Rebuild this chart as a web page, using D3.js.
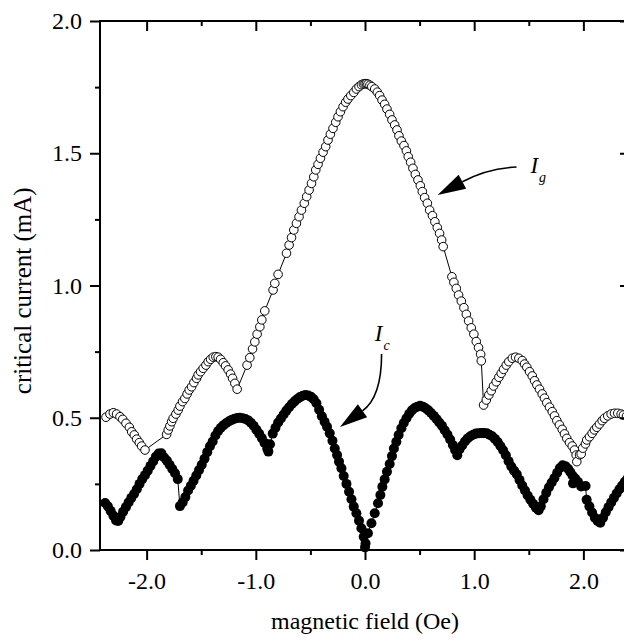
<!DOCTYPE html>
<html><head><meta charset="utf-8">
<script src="https://cdn.jsdelivr.net/npm/d3@7"></script>
<style>body{margin:0;background:#fff;} svg{display:block;font-family:"Liberation Serif","Times New Roman",serif;}</style>
</head><body><svg id="c" width="624" height="642"></svg>
<script>
// ---- data ----
const igField = [-2.372,-2.336,-2.305,-2.275,-2.244,-2.219,-2.189,-2.158,-2.137,-2.113,-2.091,-2.067,-2.046,-2.015,
-1.817,-1.802,-1.787,-1.771,-1.757,-1.732,-1.711,-1.695,-1.671,-1.650,-1.629,-1.610,-1.588,-1.567,-1.543,-1.528,-1.506,-1.482,-1.457,-1.436,-1.414,-1.390,-1.366,-1.345,-1.323,-1.298,-1.277,-1.253,-1.231,-1.213,-1.192,-1.171,
-1.080,-1.055,-1.030,-1.009,-0.988,-0.963,-0.945,-0.918,
-0.842,-0.826,-0.796,
-0.719,-0.695,-0.673,-0.652,-0.628,-0.604,-0.582,-0.556,-0.534,-0.512,-0.490,-0.469,-0.451,-0.430,-0.408,-0.384,-0.360,-0.339,-0.317,-0.293,-0.268,-0.247,-0.225,-0.201,-0.177,-0.156,-0.130,-0.103,-0.079,-0.055,-0.033,-0.015,0.000,0.013,0.027,0.045,0.062,0.089,0.113,0.134,0.156,0.180,0.201,0.226,0.247,0.272,0.293,0.311,0.333,0.357,0.379,0.396,0.418,0.439,0.461,0.485,0.507,0.525,0.546,0.571,0.592,0.618,0.640,0.662,0.683,0.702,0.716,
0.796,0.814,0.836,0.857,0.882,0.906,0.928,0.949,0.973,0.997,1.019,1.040,1.059,1.065,
1.086,1.111,1.134,1.156,1.177,1.202,1.226,1.248,1.269,1.294,1.317,1.349,1.379,1.409,1.440,1.461,1.482,1.507,1.532,1.553,1.574,1.598,1.623,1.644,1.665,1.690,1.715,1.736,1.757,1.781,1.806,1.827,1.848,1.873,1.898,1.919,1.934,1.940,1.965,1.980,1.994,2.019,2.031,2.056,2.080,2.101,2.123,2.147,2.172,2.193,2.223,2.254,2.285,2.315,2.346,2.367,2.395,2.420];
const igCurrent = [0.502,0.514,0.519,0.514,0.504,0.494,0.479,0.464,0.447,0.435,0.419,0.406,0.393,0.378,
0.437,0.454,0.469,0.485,0.498,0.514,0.529,0.544,0.561,0.573,0.590,0.605,0.617,0.633,0.649,0.662,0.674,0.687,0.699,0.712,0.721,0.729,0.731,0.729,0.721,0.708,0.696,0.681,0.665,0.649,0.630,0.608,
0.699,0.727,0.760,0.787,0.816,0.844,0.870,0.904,
0.983,1.008,1.042,
1.122,1.153,1.181,1.210,1.235,1.260,1.285,1.311,1.336,1.361,1.386,1.411,1.437,1.458,1.481,1.504,1.525,1.550,1.572,1.594,1.617,1.638,1.657,1.676,1.693,1.705,1.718,1.730,1.743,1.752,1.759,1.762,1.763,1.763,1.761,1.757,1.752,1.743,1.731,1.718,1.701,1.685,1.667,1.647,1.626,1.607,1.588,1.566,1.546,1.529,1.509,1.487,1.466,1.443,1.420,1.399,1.377,1.355,1.332,1.311,1.285,1.264,1.241,1.219,1.197,1.172,1.147,
1.033,1.012,0.989,0.964,0.941,0.916,0.891,0.866,0.840,0.816,0.788,0.765,0.740,0.715,
0.548,0.567,0.586,0.602,0.620,0.636,0.653,0.668,0.683,0.699,0.712,0.725,0.729,0.725,0.716,0.703,0.691,0.674,0.658,0.640,0.624,0.608,0.590,0.574,0.557,0.540,0.523,0.507,0.489,0.473,0.456,0.439,0.422,0.406,0.393,0.378,0.359,0.334,0.360,0.363,0.385,0.401,0.416,0.428,0.441,0.454,0.464,0.476,0.489,0.498,0.507,0.514,0.517,0.517,0.514,0.510,0.506,0.502];

const icPoints = [
[-2.38,0.178],[-2.355,0.165],[-2.33,0.148],[-2.305,0.130],[-2.28,0.112],[-2.26,0.110],[-2.24,0.125],[-2.215,0.145],[-2.19,0.162],[-2.165,0.180],[-2.14,0.197],[-2.115,0.212],[-2.09,0.230],[-2.065,0.250],[-2.04,0.268],[-2.015,0.283],[-1.99,0.300],[-1.965,0.318],[-1.94,0.335],[-1.915,0.353],[-1.89,0.365],[-1.865,0.366],[-1.84,0.350],[-1.815,0.338],[-1.79,0.322],[-1.765,0.306],[-1.74,0.290],[-1.715,0.268],
[-1.695,0.166],[-1.67,0.180],[-1.645,0.200],[-1.62,0.225],[-1.595,0.243],[-1.57,0.262],[-1.545,0.282],[-1.52,0.302],[-1.495,0.322],[-1.47,0.345],[-1.445,0.370],[-1.42,0.392],[-1.395,0.410],[-1.37,0.433],[-1.345,0.450],[-1.32,0.462],[-1.295,0.472],[-1.27,0.480],[-1.245,0.487],[-1.22,0.492],[-1.195,0.496],[-1.17,0.499],[-1.145,0.500],[-1.12,0.498],[-1.095,0.495],[-1.07,0.490],[-1.045,0.481],[-1.02,0.470],[-0.995,0.455],[-0.97,0.440],[-0.945,0.423],[-0.92,0.405],[-0.895,0.383],[-0.885,0.372],
[-0.87,0.400],[-0.845,0.440],[-0.82,0.462],[-0.795,0.482],[-0.77,0.497],[-0.745,0.512],[-0.72,0.527],[-0.695,0.540],[-0.67,0.552],[-0.645,0.562],[-0.62,0.571],[-0.595,0.578],[-0.57,0.583],[-0.545,0.586],[-0.52,0.584],[-0.495,0.579],[-0.47,0.570],[-0.445,0.555],[-0.42,0.530],[-0.395,0.506],[-0.37,0.485],[-0.348,0.466],[-0.323,0.441],[-0.298,0.413],[-0.277,0.384],[-0.256,0.359],[-0.238,0.334],[-0.216,0.309],[-0.195,0.280],[-0.170,0.250],[-0.146,0.220],[-0.124,0.192],[-0.103,0.164],[-0.079,0.139],[-0.055,0.111],[-0.033,0.082],[-0.012,0.050],[0.000,0.010],
[0.005,0.025],[0.027,0.063],[0.059,0.101],[0.089,0.139],[0.119,0.177],[0.141,0.208],[0.159,0.239],[0.180,0.267],[0.201,0.296],[0.226,0.325],[0.247,0.355],[0.265,0.384],[0.287,0.409],[0.308,0.435],[0.333,0.460],[0.355,0.480],[0.38,0.498],[0.405,0.515],[0.43,0.528],[0.455,0.537],[0.48,0.542],[0.505,0.545],[0.53,0.542],[0.555,0.536],[0.58,0.528],[0.605,0.518],[0.63,0.507],[0.655,0.495],[0.68,0.482],[0.705,0.470],[0.73,0.453],[0.755,0.437],[0.78,0.418],[0.805,0.397],[0.825,0.378],[0.845,0.358],
[0.865,0.380],[0.89,0.395],[0.915,0.410],[0.94,0.422],[0.965,0.430],[0.99,0.436],[1.015,0.440],[1.04,0.441],[1.065,0.442],[1.09,0.442],[1.115,0.441],[1.14,0.436],[1.165,0.430],[1.19,0.420],[1.215,0.408],[1.24,0.393],[1.265,0.377],[1.29,0.358],[1.315,0.336],[1.34,0.316],[1.365,0.300],[1.39,0.286],[1.415,0.265],[1.44,0.244],[1.465,0.225],[1.49,0.206],[1.515,0.190],[1.54,0.175],[1.565,0.160],[1.59,0.150],
[1.61,0.165],[1.635,0.192],[1.66,0.216],[1.685,0.237],[1.71,0.255],[1.735,0.272],[1.76,0.292],[1.785,0.310],[1.81,0.320],[1.835,0.317],[1.86,0.307],[1.88,0.295],[1.90,0.282],[1.905,0.252],[1.925,0.270],[1.95,0.258],[1.98,0.240],[2.02,0.242],
[2.03,0.190],[2.055,0.165],[2.08,0.142],[2.105,0.122],[2.13,0.110],[2.155,0.103],[2.18,0.122],[2.205,0.143],[2.23,0.162],[2.255,0.180],[2.28,0.197],[2.305,0.214],[2.33,0.230],[2.355,0.244],[2.38,0.258],[2.405,0.270]];

const xMajor = [-2, -1, 0, 1, 2];
const xMinor = [-1.5, -0.5, 0.5, 1.5];
const xLabels = ["-2.0", "-1.0", "0.0", "1.0", "2.0"];
const yMajor = [0, 0.5, 1, 1.5, 2];
const yMinor = [0.25, 0.75, 1.25, 1.75];
const yLabels = ["0.0", "0.5", "1.0", "1.5", "2.0"];
const xTitle = "magnetic field (Oe)";
const yTitle = "critical current (mA)";

// annotation anchors, in data units
const igArrow = {start:[1.388,1.448], ctrl:[1.118,1.443], base:[0.892,1.392], tip:[0.665,1.342], label:[1.515,1.426]};
const icArrow = {start:[0.152,0.741], ctrl:[0.152,0.578], base:[-0.023,0.526], tip:[-0.229,0.465], label:[0.090,0.790]};

// ---- drawing ----
const svg = d3.select("#c");
const x = d3.scaleLinear().domain([-2.427, 2.427]).range([100, 630]);
const y = d3.scaleLinear().domain([0, 2]).range([550, 21]);
const FS = 24;

const igData = igField.map((v,i)=>[v, igCurrent[i]]);
const line = d3.line().x(d=>x(d[0])).y(d=>y(d[1]));

// connecting lines
svg.append("path").datum(igData).attr("d", line).attr("fill","none").attr("stroke","#000").attr("stroke-width",1);
svg.append("path").datum(icPoints).attr("d", line).attr("fill","none").attr("stroke","#000").attr("stroke-width",1);

// Ig open circles
svg.append("g").selectAll("circle").data(igData).join("circle")
  .attr("cx", d=>x(d[0])).attr("cy", d=>y(d[1])).attr("r", 4.3)
  .attr("fill","#fff").attr("stroke","#000").attr("stroke-width",1);
// Ic filled circles
svg.append("g").selectAll("circle").data(icPoints).join("circle")
  .attr("cx", d=>x(d[0])).attr("cy", d=>y(d[1])).attr("r", 5)
  .attr("fill","#000");

// frame
const [x0,x1] = x.range(), [y0,y1] = y.range();
svg.append("rect").attr("x",x0).attr("y",y1).attr("width",x1-x0).attr("height",y0-y1)
  .attr("fill","none").attr("stroke","#000").attr("stroke-width",2);

function clean(g){
  g.select(".domain").remove();
  g.selectAll("line").attr("stroke","#000").attr("stroke-width",2);
  g.selectAll("text").attr("fill","#000").style("font-size", FS+"px").style("font-family",'"Liberation Serif","Times New Roman",serif');
}
// bottom
svg.append("g").attr("transform",`translate(0,${y0})`)
  .call(d3.axisBottom(x).tickValues(xMajor).tickSize(10).tickPadding(12).tickFormat((d,i)=>xLabels[i])).call(clean);
svg.append("g").attr("transform",`translate(0,${y0})`)
  .call(d3.axisBottom(x).tickValues(xMinor).tickSize(5).tickFormat("")).call(clean);
// top (inward)
svg.append("g").attr("transform",`translate(0,${y1})`)
  .call(d3.axisBottom(x).tickValues(xMajor).tickSize(10).tickFormat("")).call(clean);
svg.append("g").attr("transform",`translate(0,${y1})`)
  .call(d3.axisBottom(x).tickValues(xMinor).tickSize(5).tickFormat("")).call(clean);
// left
svg.append("g").attr("transform",`translate(${x0},0)`)
  .call(d3.axisLeft(y).tickValues(yMajor).tickSize(10).tickPadding(8).tickFormat((d,i)=>yLabels[i])).call(clean);
svg.append("g").attr("transform",`translate(${x0},0)`)
  .call(d3.axisLeft(y).tickValues(yMinor).tickSize(5).tickFormat("")).call(clean);
// right (inward)
svg.append("g").attr("transform",`translate(${x1},0)`)
  .call(d3.axisLeft(y).tickValues(yMajor).tickSize(10).tickFormat("")).call(clean);
svg.append("g").attr("transform",`translate(${x1},0)`)
  .call(d3.axisLeft(y).tickValues(yMinor).tickSize(5).tickFormat("")).call(clean);

// axis titles
svg.append("text").attr("x", x(0)).attr("y", 629).attr("text-anchor","middle")
  .style("font-size",FS+"px").text(xTitle);
svg.append("text").attr("transform",`translate(31,${y(0.98)}) rotate(-90)`).attr("text-anchor","middle")
  .style("font-size","25px").text(yTitle);

// arrows
function drawArrow(a, sub){
  const P = p=>[x(p[0]), y(p[1])];
  const s=P(a.start), c=P(a.ctrl), b=P(a.base), t=P(a.tip);
  const p = d3.path(); p.moveTo(s[0],s[1]); p.quadraticCurveTo(c[0],c[1],b[0],b[1]);
  svg.append("path").attr("d",p.toString()).attr("fill","none").attr("stroke","#000").attr("stroke-width",1.6);
  const dx=t[0]-b[0], dy=t[1]-b[1], L=Math.hypot(dx,dy), nx=-dy/L, ny=dx/L, hw=8;
  const h = d3.path(); h.moveTo(t[0],t[1]); h.lineTo(b[0]+nx*hw,b[1]+ny*hw); h.lineTo(b[0]-nx*hw,b[1]-ny*hw); h.closePath();
  svg.append("path").attr("d",h.toString()).attr("fill","#000");
  const l=P(a.label);
  const tx = svg.append("text").attr("x",l[0]).attr("y",l[1]).style("font-style","italic").style("font-size","23px");
  tx.append("tspan").text("I");
  tx.append("tspan").attr("dx",1).attr("dy",9).style("font-size","14px").text(sub);
}
drawArrow(igArrow, "g");
drawArrow(icArrow, "c");
</script>
</body></html>
